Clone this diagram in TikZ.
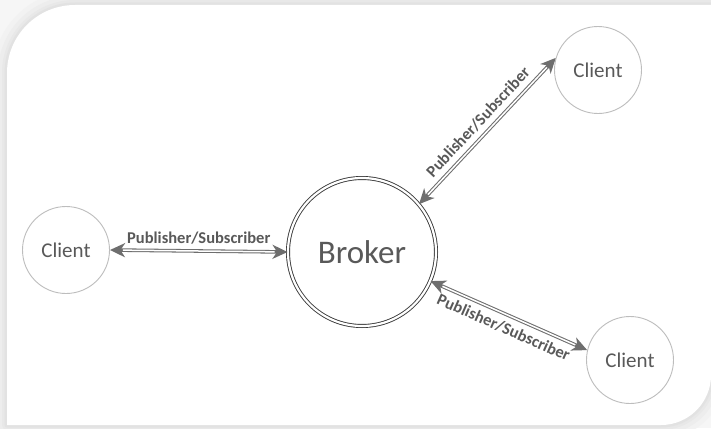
\documentclass[tikz,border=0pt]{standalone}
\usepackage{fontspec}
\setmainfont{Carlito}
\usetikzlibrary{arrows.meta}
\definecolor{txt}{HTML}{595959}
\definecolor{arr}{HTML}{6E6E6E}
\definecolor{ring}{HTML}{BDBDBD}
\definecolor{brk}{HTML}{3C3C3C}
\tikzset{
  clientnode/.style={circle,draw=ring,line width=0.9pt,minimum size=87pt,inner sep=0pt,
    text=txt,font=\fontsize{21}{25}\selectfont},
  brokernode/.style={circle,draw=brk,double=white,double distance=2.2pt,line width=0.9pt,
    minimum size=148pt,inner sep=0pt,text=txt,font=\fontsize{33}{38}\selectfont},
  linkouter/.style={draw=arr,line width=3.6pt,
    {Stealth[length=15pt,width=14pt,inset=4.5pt]}-{Stealth[length=15pt,width=14pt,inset=4.5pt]}},
  linkinner/.style={draw=white,line width=1.5pt,shorten <=13pt,shorten >=13pt},
  lbl/.style={text=txt,font=\fontsize{16.5}{19}\selectfont\bfseries,inner sep=2pt}
}
\def\fpath{(7,425) -- (7,73) .. controls (7,35.4) and (37.4,5) .. (75,5) -- (711,5) -- (711,375) .. controls (711,402.6) and (688.6,425) .. (661,425) -- cycle}
\begin{document}
\begin{tikzpicture}[x=1pt,y=-1pt]
\useasboundingbox (0,0) rectangle (711,428);
\fill[gray!7] (0,0) rectangle (711,428);
\draw[line width=28pt,gray!10,line join=round] \fpath;
\draw[line width=18pt,gray!14,line join=round] \fpath;
\draw[line width=10pt,gray!18,line join=round] \fpath;
\draw[line width=5pt,gray!23,line join=round] \fpath;
\fill[white] \fpath;

\node[brokernode] (broker) at (362,252) {Broker};
\node[clientnode] (cl) at (66,250) {Client};
\node[clientnode] (ctr) at (598,70) {Client};
\node[clientnode] (cbr) at (630,360) {Client};

\draw[linkouter] (cl.east) -- node[lbl,above=3pt] {Publisher/Subscriber} (broker.west);
\draw[linkinner] (cl.east) -- (broker.west);
\draw[linkouter] (broker.40) -- node[lbl,sloped,above=3pt] {Publisher/Subscriber} (ctr.164);
\draw[linkinner] (broker.40) -- (ctr.164);
\draw[linkouter] (broker.-23) -- node[lbl,sloped,below=3pt] {Publisher/Subscriber} (cbr.167);
\draw[linkinner] (broker.-23) -- (cbr.167);
\end{tikzpicture}
\end{document}
